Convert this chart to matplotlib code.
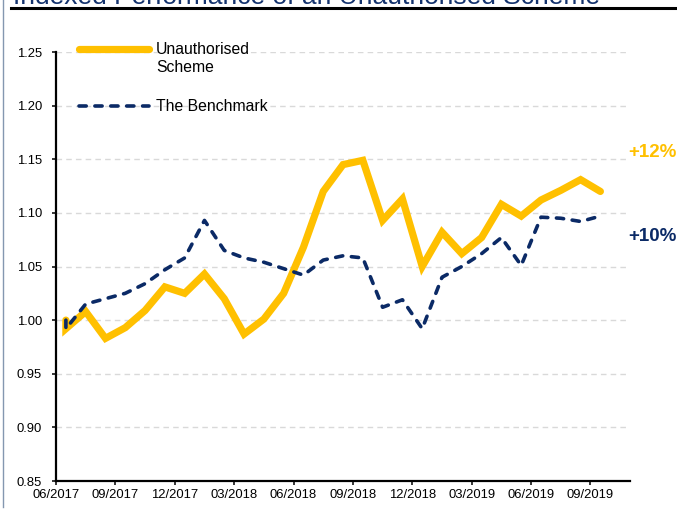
import numpy as np
import matplotlib
matplotlib.use("Agg")
import matplotlib.pyplot as plt
from matplotlib.lines import Line2D

plt.rcParams['font.family'] = ['Liberation Sans', 'DejaVu Sans']

GOLD = '#FFC000'
NAVY = '#0B2A66'

# month index of each point (first two share the start month)
month_pos = [0.5, 0.5] + [i + 0.5 for i in range(1, 28)]

scheme = [1.000, 0.992, 1.008, 0.983, 0.993, 1.009, 1.031, 1.025, 1.043, 1.020,
          0.987, 1.001, 1.025, 1.068, 1.120, 1.145, 1.149, 1.093, 1.113, 1.050,
          1.082, 1.062, 1.077, 1.108, 1.097, 1.112, 1.121, 1.131, 1.120]
benchmark = [1.000, 0.992, 1.015, 1.020, 1.025, 1.034, 1.047, 1.058, 1.093, 1.065,
             1.058, 1.054, 1.048, 1.042, 1.056, 1.060, 1.058, 1.012, 1.019, 0.992,
             1.040, 1.050, 1.062, 1.077, 1.051, 1.096, 1.095, 1.092, 1.097]

tick_pos = [0, 3, 6, 9, 12, 15, 18, 21, 24, 27]
tick_labels = ['06/2017', '09/2017', '12/2017', '03/2018', '06/2018',
               '09/2018', '12/2018', '03/2019', '06/2019', '09/2019']
y_ticks = [0.85, 0.90, 0.95, 1.00, 1.05, 1.10, 1.15, 1.20, 1.25]

fig = plt.figure(figsize=(6.77, 5.15), dpi=100)
ax = fig.add_axes([0.0827, 0.066, 0.848, 0.833])

for y in y_ticks[1:]:
    ax.axhline(y, color='#D9D9D9', lw=1.0, ls=(0, (4, 3)), zorder=0)

ax.plot(month_pos, scheme, color=GOLD, lw=5.2, solid_capstyle='round',
        solid_joinstyle='miter', zorder=3)
ax.plot(month_pos, benchmark, color=NAVY, lw=2.6, ls=(0, (2.0, 2.4)),
        dash_capstyle='round', zorder=4)

ax.set_xlim(0, 29)
ax.set_ylim(0.85, 1.25)
ax.set_xticks(tick_pos)
ax.set_xticklabels(tick_labels)
ax.set_yticks(y_ticks)
ax.set_yticklabels(['%.2f' % v for v in y_ticks])
ax.tick_params(axis='both', direction='out', length=3, width=1.1,
               labelsize=9.4, colors='black')
ax.tick_params(axis='x', pad=3)
ax.tick_params(axis='y', pad=7)
for s in ['top', 'right']:
    ax.spines[s].set_visible(False)
for s in ['left', 'bottom']:
    ax.spines[s].set_linewidth(1.6)

# legend drawn by hand
ax.plot([0.040, 0.162], [1.007, 1.007], transform=ax.transAxes, color=GOLD,
        lw=5.2, solid_capstyle='round', clip_on=False)
ax.text(0.174, 1.024, 'Unauthorised\nScheme', transform=ax.transAxes,
        fontsize=11.3, va='top', ha='left', linespacing=1.25)
ax.plot([0.040, 0.162], [0.874, 0.874], transform=ax.transAxes, color=NAVY,
        lw=2.6, ls=(0, (2.0, 2.4)), dash_capstyle='round', clip_on=False)
ax.text(0.174, 0.874, 'The Benchmark', transform=ax.transAxes,
        fontsize=11.3, va='center', ha='left')

ax.text(0.9965, 0.765, '+12%', transform=ax.transAxes, color=GOLD,
        fontsize=13.5, fontweight='bold', va='center', ha='left')
ax.text(0.9965, 0.571, '+10%', transform=ax.transAxes, color=NAVY,
        fontsize=13.5, fontweight='bold', va='center', ha='left')

# title (cut by the top edge) and decorations
fig.text(0.019, 0.992, 'Indexed Performance of an Unauthorised Scheme',
         fontsize=19, color='#14336E', va='baseline', ha='left')
fig.add_artist(Line2D([0.016, 1.0], [0.984, 0.984], color='black', lw=2.2))
fig.add_artist(Line2D([0.0045, 0.0045], [0.015, 1.0], color='#8497B0', lw=1.0))

fig.savefig('out.png', dpi=100)
